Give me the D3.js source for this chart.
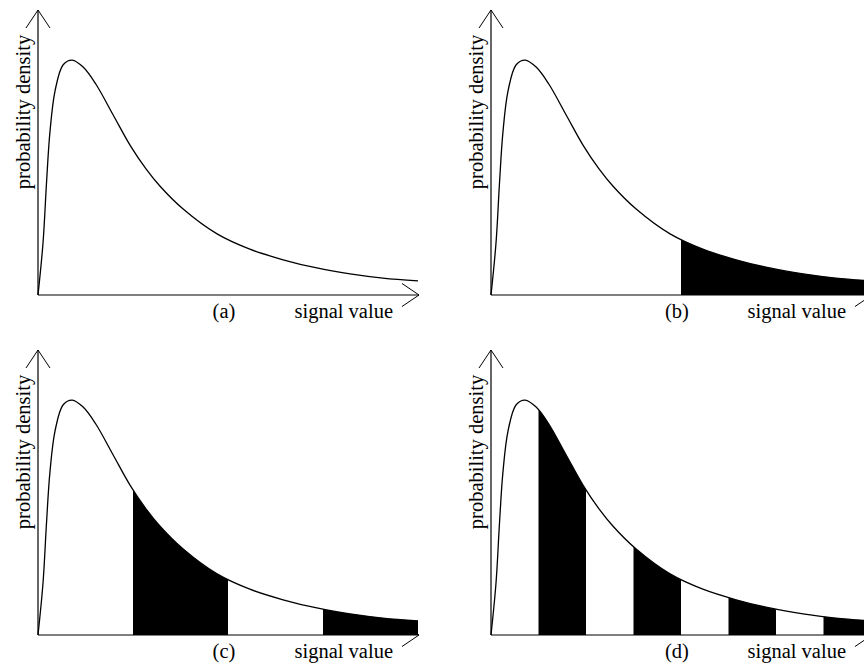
<!DOCTYPE html>
<html>
<head>
<meta charset="utf-8">
<script src="https://cdn.jsdelivr.net/npm/d3@7.9.0/dist/d3.min.js"></script>
<style>
  html, body { margin: 0; padding: 0; background: #fff; }
  svg { display: block; }
  text { font-family: "Liberation Serif", "Times New Roman", serif; fill: #000; }
</style>
</head>
<body>
<div id="chart"></div>
<script>
// curve: signal value (0..8) vs. relative density (peak = 1)
const signalValues = [0, 0.105, 0.18, 0.25, 0.36, 0.53, 0.72, 0.95, 1.22, 1.58, 1.94, 2.27, 2.57, 3.05, 3.77, 4.46, 5.16, 5.87, 6.57, 7.26, 8.0];
const densities    = [0, 0.22, 0.48, 0.69, 0.87, 0.98, 1.0, 0.97, 0.897, 0.767, 0.637, 0.538, 0.463, 0.367, 0.26, 0.195, 0.15, 0.115, 0.09, 0.072, 0.06];

const panelLabels = ['(a)', '(b)', '(c)', '(d)'];
// shaded intervals of signal value in each panel
const panelBands = [
  [],
  [[4, 8]],
  [[2, 4], [6, 8]],
  [[1, 2], [3, 4], [5, 6], [7, 8]],
];
const xLabel = 'signal value';
const yLabel = 'probability density';

const width = 864;
const height = 666;

const points = signalValues.map((x, i) => ({ x, y: densities[i] }));

const svg = d3.select('#chart')
  .append('svg')
  .attr('width', width)
  .attr('height', height);

const defs = svg.append('defs');

const origins = [
  { x: 38, y: 295 },
  { x: 491, y: 295 },
  { x: 38, y: 635 },
  { x: 491, y: 635 },
];

const smooth = d3.curveCatmullRom.alpha(0.5);

panelLabels.forEach((label, i) => {
  const o = origins[i];
  const xScale = d3.scaleLinear().domain([0, 8]).range([o.x, o.x + 380]);
  const yScale = d3.scaleLinear().domain([0, 1.213]).range([o.y, o.y - 285]);

  const g = svg.append('g').attr('class', 'panel');

  // shaded bands under the curve
  if (panelBands[i].length) {
    const clipId = 'clip' + i;
    defs.append('clipPath')
      .attr('id', clipId)
      .selectAll('rect')
      .data(panelBands[i])
      .join('rect')
      .attr('x', (d) => xScale(d[0]))
      .attr('width', (d) => xScale(d[1]) - xScale(d[0]))
      .attr('y', yScale.range()[1])
      .attr('height', yScale.range()[0] - yScale.range()[1]);

    const area = d3.area()
      .x((d) => xScale(d.x))
      .y0(yScale(0))
      .y1((d) => yScale(d.y))
      .curve(smooth);

    g.append('path')
      .datum(points)
      .attr('d', area)
      .attr('fill', '#000')
      .attr('clip-path', `url(#${clipId})`);
  }

  // the density curve
  const line = d3.line()
    .x((d) => xScale(d.x))
    .y((d) => yScale(d.y))
    .curve(smooth);

  g.append('path')
    .datum(points)
    .attr('d', line)
    .attr('fill', 'none')
    .attr('stroke', '#000')
    .attr('stroke-width', 1.3);

  // axes with open arrow heads
  const x0 = xScale(0), y0 = yScale(0);
  const xEnd = xScale(8) + 1, yEnd = yScale.range()[1];

  g.append('line')
    .attr('x1', x0).attr('y1', y0)
    .attr('x2', xEnd).attr('y2', y0)
    .attr('stroke', '#000').attr('stroke-width', 1.2);
  g.append('path')
    .attr('d', `M${xEnd - 17},${y0 - 11.5}L${xEnd},${y0}L${xEnd - 17},${y0 + 11.5}`)
    .attr('fill', 'none').attr('stroke', '#000').attr('stroke-width', 1);

  g.append('line')
    .attr('x1', x0).attr('y1', y0)
    .attr('x2', x0).attr('y2', yEnd)
    .attr('stroke', '#000').attr('stroke-width', 1.2);
  g.append('path')
    .attr('d', `M${x0 - 12},${yEnd + 18}L${x0},${yEnd}L${x0 + 12},${yEnd + 18}`)
    .attr('fill', 'none').attr('stroke', '#000').attr('stroke-width', 1);

  // texts
  g.append('text')
    .attr('transform', `translate(${x0 - 8},${y0 - 183}) rotate(-90)`)
    .attr('text-anchor', 'middle')
    .style('font-size', '20.5px')
    .text(yLabel);

  g.append('text')
    .attr('x', x0 + 355)
    .attr('y', y0 + 23)
    .attr('text-anchor', 'end')
    .style('font-size', '20.5px')
    .text(xLabel);

  g.append('text')
    .attr('x', x0 + 186)
    .attr('y', y0 + 23)
    .attr('text-anchor', 'middle')
    .style('font-size', '20.5px')
    .text(label);
});
</script>
</body>
</html>
